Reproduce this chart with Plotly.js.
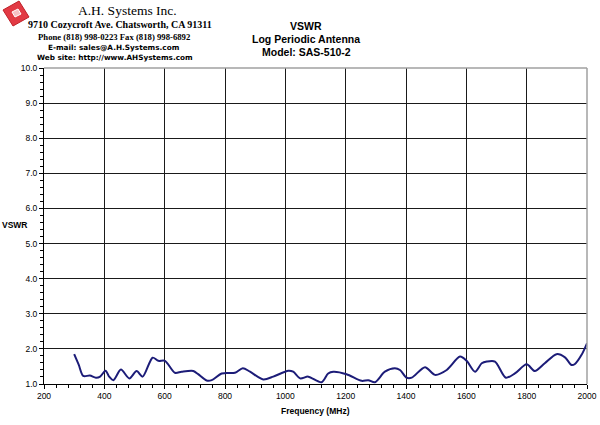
<!DOCTYPE html>
<html>
<head>
<meta charset="utf-8">
<script src="https://cdn.plot.ly/plotly-3.0.1.min.js"></script>
<style>
html,body{margin:0;padding:0;background:#fff;}
#chart{width:600px;height:425px;}
</style>
</head>
<body>
<div id="chart"></div>
<script>
// Data
const freqMHz = [300, 315, 330, 352, 372, 386, 404, 416, 430, 455, 483, 507, 527, 560, 579, 601, 634, 656, 695, 711, 739, 756, 789, 833, 859, 883, 927, 960, 1010, 1026, 1049, 1076, 1120, 1142, 1159, 1203, 1253, 1275, 1297, 1330, 1363, 1380, 1402, 1419, 1463, 1496, 1535, 1579, 1601, 1629, 1651, 1668, 1695, 1731, 1761, 1800, 1827, 1860, 1899, 1927, 1949, 1960, 1982, 2000];
const vswr    = [1.85, 1.55, 1.23, 1.24, 1.18, 1.21, 1.38, 1.21, 1.11, 1.41, 1.16, 1.37, 1.21, 1.75, 1.66, 1.66, 1.32, 1.35, 1.37, 1.28, 1.10, 1.11, 1.30, 1.32, 1.45, 1.35, 1.13, 1.21, 1.38, 1.35, 1.16, 1.21, 1.05, 1.30, 1.35, 1.28, 1.09, 1.11, 1.05, 1.35, 1.45, 1.40, 1.18, 1.18, 1.48, 1.26, 1.40, 1.78, 1.66, 1.35, 1.59, 1.64, 1.64, 1.18, 1.30, 1.56, 1.37, 1.59, 1.85, 1.76, 1.54, 1.57, 1.83, 2.16];

const titleLines = ["VSWR", "Log Periodic Antenna", "Model: SAS-510-2"];
const headerLines = ["A.H. Systems Inc.", "9710 Cozycroft Ave. Chatsworth, CA 91311", "Phone (818) 998-0223 Fax (818) 998-6892", "E-mail: sales@A.H.Systems.com", "Web site: http://www.AHSystems.com"];
const xTitle = "Frequency (MHz)";
const yTitle = "VSWR";

// plot area in pixels: x 44..587, y 68..384
const L = 44, R = 587, T = 68, B = 384;
const px = x => (x - L) / (R - L);
const py = y => (B - y) / (B - T);

function ann(text, x, y, font, extra) {
  return Object.assign({text: text, xref: 'paper', yref: 'paper', x: px(x), y: py(y),
    xanchor: 'center', yanchor: 'middle', showarrow: false, font: font}, extra || {});
}

const annotations = [
  ann(titleLines[0], 306, 26, {family: 'Liberation Sans, Arial', size: 10.5, color: '#000', weight: 'bold'}),
  ann(titleLines[1], 306, 39, {family: 'Liberation Sans, Arial', size: 10.5, color: '#000', weight: 'bold'}),
  ann(titleLines[2], 306, 52, {family: 'Liberation Sans, Arial', size: 10.5, color: '#000', weight: 'bold'}),
  ann(headerLines[0], 127, 11, {family: 'Liberation Serif, Times New Roman', size: 13.5, color: '#000'}),
  ann(headerLines[1], 120, 25, {family: 'Liberation Serif, Times New Roman', size: 10, color: '#000', weight: 'bold'}),
  ann(headerLines[2], 114, 37, {family: 'Liberation Serif, Times New Roman', size: 8.7, color: '#000', weight: 'bold'}),
  ann(headerLines[3], 114, 47, {family: 'DejaVu Sans, Verdana', size: 7.3, color: '#000', weight: 'bold'}),
  ann(headerLines[4], 115, 57, {family: 'DejaVu Sans, Verdana', size: 7.3, color: '#000', weight: 'bold'}),
  ann(yTitle, 15, 225, {family: 'Liberation Sans, Arial', size: 8.5, color: '#000', weight: 'bold'}),
  ann(xTitle, 315, 411, {family: 'Liberation Sans, Arial', size: 8.5, color: '#000', weight: 'bold'})
];

function quad(pts) {
  return 'M ' + pts.map(p => px(p[0]) + ' ' + py(p[1])).join(' L ') + ' Z';
}

const shapes = [
  // top and right frame (grey)
  {type: 'line', xref: 'paper', yref: 'paper', x0: 0, x1: 1, y0: 1, y1: 1, line: {color: '#a0a0a0', width: 1.5}},
  {type: 'line', xref: 'paper', yref: 'paper', x0: 1, x1: 1, y0: 0, y1: 1, line: {color: '#a0a0a0', width: 1.5}},
  // logo: tilted red square
  {type: 'path', xref: 'paper', yref: 'paper',
   path: quad([[3, 10], [19, 1], [29, 17], [13, 26]]),
   fillcolor: '#e23a44', line: {color: '#c02028', width: 1}},
  {type: 'path', xref: 'paper', yref: 'paper',
   path: quad([[12, 12], [18, 9], [21, 14], [15, 17]]),
   fillcolor: '#f6c0c4', line: {color: '#ffffff', width: 1}}
];

const trace = {
  x: freqMHz, y: vswr, type: 'scatter', mode: 'lines',
  line: {color: '#1c1c78', width: 2, shape: 'spline', smoothing: 0.8},
  hoverinfo: 'skip'
};

const tickFont = {family: 'Liberation Sans, Arial', size: 8.5, color: '#000'};

const layout = {
  width: 600, height: 425,
  margin: {l: L, r: 600 - R, t: T, b: 425 - B, pad: 0},
  paper_bgcolor: '#fff', plot_bgcolor: '#fff',
  showlegend: false,
  xaxis: {
    range: [200, 2000], tick0: 200, dtick: 200, tickmode: 'linear',
    showgrid: true, gridcolor: '#1a1a1a', gridwidth: 1,
    zeroline: false, showline: true, linecolor: '#000', linewidth: 1,
    ticks: 'outside', ticklen: 4, tickcolor: '#000', tickfont: tickFont,
    minor: {dtick: 40, ticklen: 3, tickcolor: '#000', ticks: 'outside', showgrid: false}
  },
  yaxis: {
    range: [1, 10], tick0: 1, dtick: 1, tickmode: 'linear', tickformat: '.1f',
    showgrid: true, gridcolor: '#1a1a1a', gridwidth: 1,
    zeroline: false, showline: true, linecolor: '#000', linewidth: 1,
    ticks: 'outside', ticklen: 4, tickcolor: '#000', tickfont: tickFont,
    minor: {dtick: 0.2, ticklen: 3, tickcolor: '#000', ticks: 'outside', showgrid: false}
  },
  annotations: annotations,
  shapes: shapes
};

Plotly.newPlot('chart', [trace], layout, {staticPlot: true, displayModeBar: false});
</script>
</body>
</html>
